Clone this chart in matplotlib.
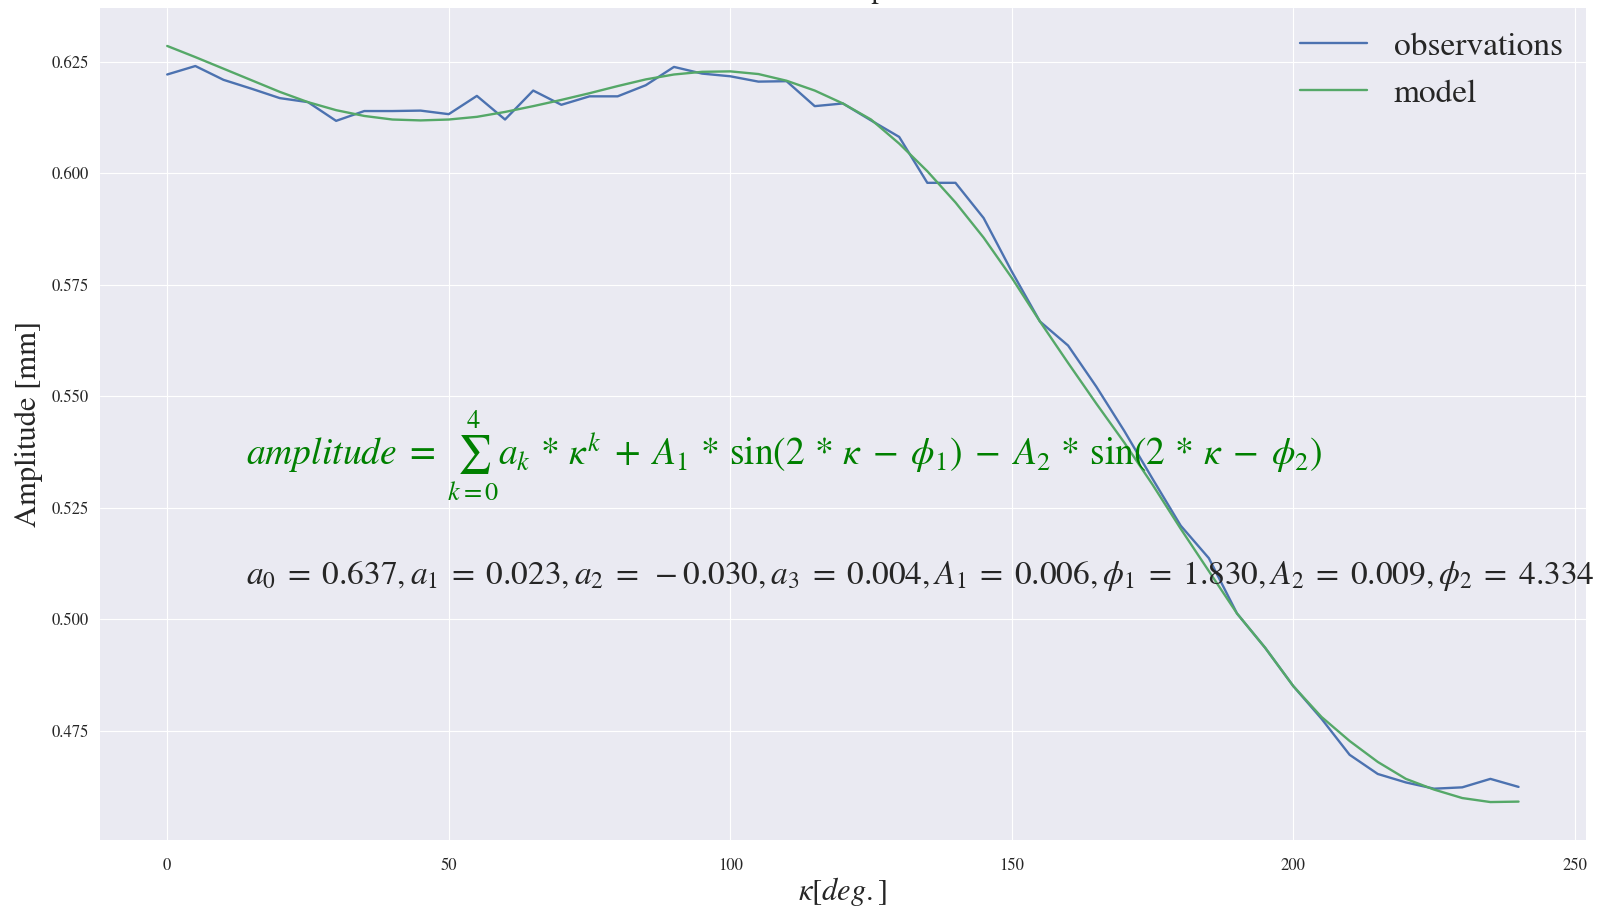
import matplotlib
matplotlib.use("Agg")
import matplotlib.pyplot as plt

# kappa in degrees, one sample every 5 degrees
kappa = list(range(0, 245, 5))

observations = [
    0.6222, 0.6241, 0.6210, 0.6190, 0.6169, 0.6160, 0.6118, 0.6140, 0.6140, 0.6141,
    0.6133, 0.6174, 0.6121, 0.6186, 0.6154, 0.6173, 0.6173, 0.6198, 0.6239, 0.6224,
    0.6218, 0.6206, 0.6207, 0.6151, 0.6157, 0.6119, 0.6082, 0.5979, 0.5979, 0.5900,
    0.5780, 0.5668, 0.5614, 0.5522, 0.5422, 0.5315, 0.5210, 0.5137, 0.5013, 0.4936,
    0.4850, 0.4777, 0.4696, 0.4653, 0.4634, 0.4620, 0.4623, 0.4642, 0.4624,
]

model = [
    0.6286, 0.6261, 0.6235, 0.6209, 0.6183, 0.6160, 0.6142, 0.6129, 0.6121, 0.6119,
    0.6121, 0.6127, 0.6138, 0.6151, 0.6165, 0.6180, 0.6196, 0.6211, 0.6222, 0.6228,
    0.6229, 0.6223, 0.6208, 0.6186, 0.6157, 0.6121, 0.6067, 0.6005, 0.5935, 0.5856,
    0.5766, 0.5668, 0.5575, 0.5484, 0.5396, 0.5302, 0.5203, 0.5108, 0.5013, 0.4936,
    0.4850, 0.4781, 0.4727, 0.4680, 0.4642, 0.4618, 0.4599, 0.4590, 0.4591,
]

yticks = [0.475, 0.500, 0.525, 0.550, 0.575, 0.600, 0.625]
xticks = [0, 50, 100, 150, 200, 250]

# latex-like spacing around the operators
equation = (r"$amplitude \;=\; \sum_{k=0}^{4} a_k \,*\, \kappa^k \;+\; A_1 \,*\, \sin(2 \,*\, \kappa \;-\; \phi_1)"
            r" \;-\; A_2 \,*\, \sin(2 \,*\, \kappa \;-\; \phi_2)$")
params = (r"$a_0 \;=\; 0.637, a_1 \;=\; 0.023, a_2 \;=\; -0.030, a_3 \;=\; 0.004, A_1 \;=\; 0.006,"
          r" \phi_1 \;=\; 1.830, A_2 \;=\; 0.009, \phi_2 \;=\; 4.334$")

plt.style.use("seaborn-v0_8-darkgrid")
plt.rcParams["font.family"] = ["STIXGeneral", "DejaVu Serif"]
plt.rcParams["mathtext.fontset"] = "stix"

fig = plt.figure(figsize=(16.07, 9.06), dpi=100)
ax = fig.add_axes([0.062, 0.073, 0.925, 0.918])

ax.plot(kappa, observations, color="#4C72B0", lw=1.7, label="observations")
ax.plot(kappa, model, color="#55A868", lw=1.7, label="model")

ax.set_xticks(xticks)
ax.set_yticks(yticks)
ax.set_yticklabels([f"{v:.3f}" for v in yticks])
ax.tick_params(axis="y", labelsize=12, colors="#262626", pad=8)
ax.tick_params(axis="x", labelsize=12, colors="#262626", pad=13)
ax.set_xlabel(r"$\kappa[deg.]$", fontsize=22, color="#262626", labelpad=1)
ax.set_ylabel("Amplitude [mm]", fontsize=22, color="#262626", labelpad=6)

ax.legend(loc="upper right", fontsize=24, frameon=False, borderaxespad=0.3)

ax.text(14, 0.5345, equation, color="green", fontsize=27, va="baseline")
ax.text(14, 0.508, params, color="#262626", fontsize=24, va="baseline", clip_on=False)

fig.text(0.524, 1.002, "Observed amplitudes", ha="center", va="baseline",
         fontsize=20, color="#262626")

fig.savefig("out.png", dpi=100)
